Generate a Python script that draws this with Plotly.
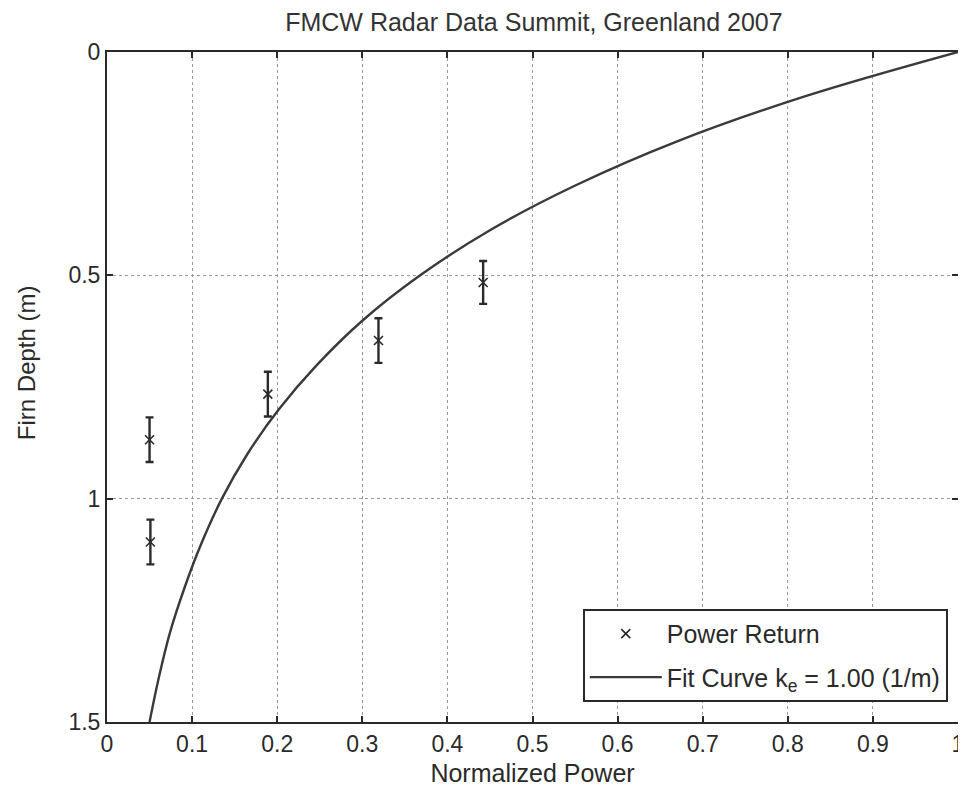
import plotly.graph_objects as go

# Measured data points (normalized power vs firn depth)
power_obs = [0.050, 0.051, 0.189, 0.319, 0.442]
depth_obs = [0.868, 1.097, 0.766, 0.646, 0.516]
depth_err = [0.050, 0.050, 0.050, 0.050, 0.048]

# Fit curve
fit_depth = [0.0, 0.1, 0.2, 0.3, 0.4, 0.5, 0.6, 0.7, 0.8, 0.9, 1.0, 1.1, 1.2, 1.3, 1.4, 1.5]
fit_power = [1.0, 0.819, 0.670, 0.549, 0.449, 0.368, 0.301, 0.247, 0.202, 0.165,
             0.135, 0.111, 0.091, 0.074, 0.061, 0.050]

x_ticks = [0, 0.1, 0.2, 0.3, 0.4, 0.5, 0.6, 0.7, 0.8, 0.9, 1]
x_tick_labels = ["0", "0.1", "0.2", "0.3", "0.4", "0.5", "0.6", "0.7", "0.8", "0.9", "1"]
y_ticks = [0, 0.5, 1, 1.5]
y_tick_labels = ["0", "0.5", "1", "1.5"]

ink = "#2a2a2a"
font_family = "Liberation Sans, Arial, sans-serif"
fs = 23

fig = go.Figure()
fig.add_trace(go.Scatter(
    x=power_obs, y=depth_obs, mode="markers", name="Power Return", legendgroup="a",
    marker=dict(symbol="x-thin", size=9, line=dict(width=1.6, color=ink), color=ink),
    error_y=dict(type="data", array=depth_err, visible=True, color=ink, thickness=2.4, width=4),
))
fig.add_trace(go.Scatter(
    x=fit_power, y=fit_depth, mode="lines", line_shape="spline", legendgroup="b",
    name="Fit Curve k<sub>e</sub> = 1.00 (1/m)",
    line=dict(color="#3a3a3a", width=2.4),
))

axis_common = dict(
    showgrid=True, gridcolor="#9a9a9a", griddash="dot", gridwidth=1,
    showline=True, linecolor=ink, linewidth=2, mirror="ticks",
    ticks="inside", ticklen=6, tickcolor=ink, tickwidth=1.5,
    zeroline=False, automargin=False,
    tickfont=dict(size=fs, color=ink, family=font_family),
)

fig.update_layout(
    width=958, height=785,
    paper_bgcolor="white", plot_bgcolor="white",
    margin=dict(l=99, r=8, t=44, b=71),
    title=dict(text="FMCW Radar Data Summit, Greenland 2007", x=0.549, xanchor="center",
               y=0.982, yanchor="middle",
               font=dict(size=25, color="#333333", family=font_family)),
    xaxis=dict(range=[0, 1], tickvals=x_ticks, ticktext=x_tick_labels,
               title=dict(text="Normalized Power", standoff=9,
                          font=dict(size=25, color=ink, family=font_family)),
               **axis_common),
    yaxis=dict(range=[1.5, 0], tickvals=y_ticks, ticktext=y_tick_labels,
               **axis_common),
    legend=dict(x=0.988, xanchor="right", y=0.03, yanchor="bottom",
                bgcolor="white", bordercolor=ink, borderwidth=2,
                font=dict(size=25, color=ink, family=font_family),
                itemwidth=72, tracegroupgap=8),
    showlegend=True,
    annotations=[dict(
        text="Firn Depth (m)", textangle=-90, showarrow=False,
        xref="paper", yref="paper", x=-0.0952, y=0.537,
        xanchor="center", yanchor="middle",
        font=dict(size=24, color=ink, family=font_family),
    )],
)

fig.write_html("out.html")
